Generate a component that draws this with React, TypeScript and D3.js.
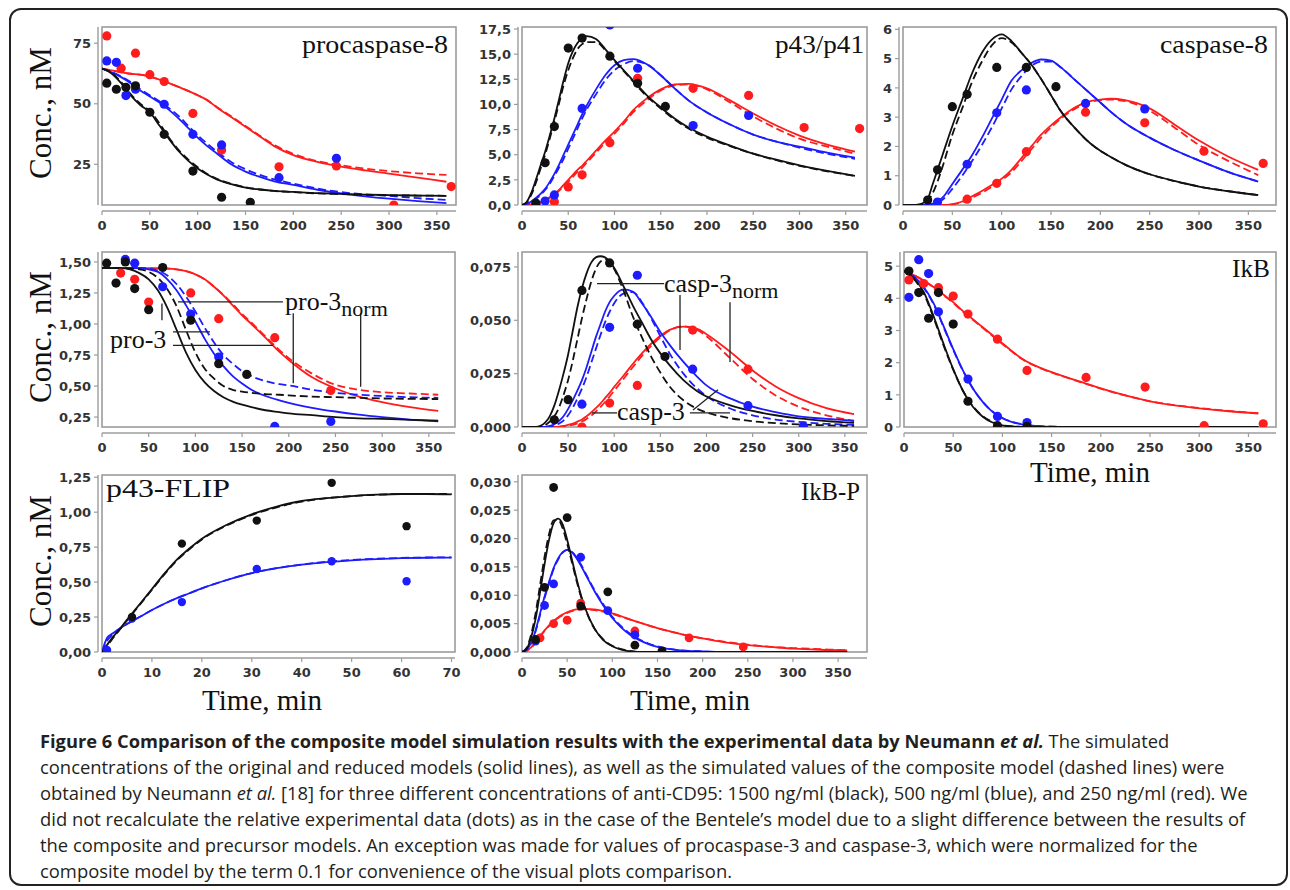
import React from 'react';
import * as d3 from 'd3';

// colours of the three anti-CD95 doses
const BLACK = '#111111';
const BLUE = '#1c1cff';
const RED = '#ff1c1c';
const FRAME = '#9c9c9c';

// ---------- tick labels ----------
const xTicksLong = [0, 50, 100, 150, 200, 250, 300, 350];
const xTicksFlip = [0, 10, 20, 30, 40, 50, 60, 70];
const yTicksProc8 = [25, 50, 75];
const yTicksP43 = [0, 2.5, 5, 7.5, 10, 12.5, 15, 17.5];
const yTicksCasp8 = [0, 1, 2, 3, 4, 5, 6];
const yTicksPro3 = [0.25, 0.5, 0.75, 1, 1.25, 1.5];
const yTicksCasp3 = [0, 0.025, 0.05, 0.075];
const yTicksIkB = [0, 1, 2, 3, 4, 5];
const yTicksFlip = [0, 0.25, 0.5, 0.75, 1, 1.25];
const yTicksIkBP = [0, 0.005, 0.01, 0.015, 0.02, 0.025, 0.03];

// ---------- procaspase-8 ----------
const proc8Time = [0, 10, 20, 30, 40, 50, 60, 70, 80, 90, 100, 110, 120, 135, 150, 165, 180, 200, 225, 250, 275, 300, 330, 360];
const proc8BlackSolid = [64.5, 62.5, 58.5, 53.5, 49.5, 46.5, 41, 35.5, 30.5, 26.5, 23.3, 20.8, 18.8, 16.8, 15.4, 14.6, 14.0, 13.6, 13.1, 12.8, 12.5, 12.3, 12.1, 12.0];
const proc8BlackDash = [64.5, 62.8, 59, 54, 50, 47, 42, 36, 31, 27, 23.8, 21, 19, 17, 15.5, 14.6, 14, 13.5, 13, 12.7, 12.4, 12.2, 12.1, 12];
const proc8BlueSolid = [64.5, 63, 61, 58.5, 55.5, 53, 50.5, 47.5, 44, 40, 36, 32.5, 29.5, 25, 22, 19.8, 18, 16.5, 14.5, 13, 11.8, 10.8, 9.8, 9.0];
const proc8BlueDash = [64.5, 63.2, 61.3, 59, 56, 53.5, 51, 48.2, 45, 41, 37, 33.5, 30.3, 26, 23, 20.6, 18.8, 17, 15, 13.5, 12.6, 12, 11, 10.3];
const proc8RedSolid = [64.5, 63.8, 63, 62.4, 62, 61.2, 60, 58.5, 57, 55.3, 53.5, 51.5, 48.5, 44.5, 40.5, 36.5, 32.5, 28.8, 26, 24, 22.5, 21.2, 19.5, 17.8];
const proc8RedDash = [64.5, 63.8, 63, 62.4, 62, 61.2, 60, 58.5, 57, 55.3, 53.5, 51.5, 48.7, 44.8, 40.8, 36.8, 33, 29.3, 26.3, 24.6, 23.2, 22.2, 21.3, 20.6];
const proc8BlackDots = [[5, 58.5], [15, 56], [25, 56.8], [35, 57.4], [50, 46.5], [65, 37.4], [95, 22.2], [125, 11.4], [155, 9.3]];
const proc8BlueDots = [[5, 67.7], [15, 67.1], [25, 53.4], [35, 56], [65, 49.8], [95, 37.4], [125, 33], [185, 19.5], [245, 27.5]];
const proc8RedDots = [[5, 78], [20, 64.7], [35, 70.9], [50, 62], [65, 59.2], [95, 46], [125, 30.9], [185, 24], [245, 24.3], [305, 8.2], [365, 15.8]];

// ---------- p43/p41 ----------
const p43Time = [0, 5, 10, 15, 20, 25, 30, 35, 40, 45, 50, 55, 60, 65, 70, 80, 90, 100, 110, 120, 135, 150, 165, 180, 200, 225, 250, 275, 300, 330, 360];
const p43BlackSolid = [0, 0.3, 1.2, 2.5, 3.9, 5.3, 6.9, 8.6, 10.5, 12.4, 14.1, 15.3, 16.1, 16.6, 16.8, 16.5, 15.5, 14.4, 13.4, 12.4, 10.9, 9.7, 8.6, 7.7, 6.8, 5.9, 5.1, 4.5, 3.95, 3.4, 2.9];
const p43BlackDash = [0, 0.25, 1.0, 2.2, 3.6, 5.0, 6.6, 8.3, 10.1, 11.9, 13.4, 14.6, 15.5, 16.0, 16.2, 16.2, 15.4, 14.3, 13.3, 12.3, 10.8, 9.6, 8.5, 7.6, 6.7, 5.85, 5.1, 4.45, 3.9, 3.35, 2.9];
const p43BlueSolid = [0, 0.1, 0.35, 0.7, 1.1, 1.6, 2.3, 3.1, 4.0, 5.0, 6.0, 7.0, 8.0, 9.0, 9.9, 11.5, 12.9, 13.9, 14.4, 14.5, 14.0, 12.9, 11.6, 10.4, 9.2, 8.0, 7.0, 6.3, 5.8, 5.2, 4.7];
const p43BlueDash = [0, 0.08, 0.3, 0.6, 1.0, 1.5, 2.1, 2.9, 3.7, 4.6, 5.6, 6.6, 7.6, 8.6, 9.5, 11.0, 12.4, 13.4, 14.0, 14.3, 14.0, 12.9, 11.6, 10.4, 9.2, 8.0, 7.0, 6.3, 5.7, 5.1, 4.6];
const p43RedSolid = [0, 0, 0.05, 0.15, 0.3, 0.5, 0.8, 1.1, 1.5, 2.0, 2.5, 3.0, 3.5, 3.9, 4.4, 5.4, 6.4, 7.3, 8.3, 9.4, 10.6, 11.5, 12.0, 12.05, 11.6, 10.4, 9.1, 7.9, 6.9, 6.0, 5.3];
const p43RedDash = [0, 0, 0.04, 0.12, 0.25, 0.45, 0.7, 1.0, 1.4, 1.85, 2.3, 2.8, 3.3, 3.7, 4.2, 5.2, 6.2, 7.1, 8.1, 9.2, 10.4, 11.4, 11.9, 12.0, 11.5, 10.2, 8.8, 7.6, 6.6, 5.8, 5.1];
const p43BlackDots = [[15, 0.2], [25, 4.2], [35, 7.8], [50, 15.6], [65, 16.6], [95, 14.8], [125, 12.1], [155, 9.8]];
const p43BlueDots = [[15, 0.1], [25, 0.4], [35, 1.0], [65, 9.6], [95, 17.9], [125, 13.6], [185, 7.9], [245, 8.9]];
const p43RedDots = [[35, 0.33], [50, 1.8], [65, 3.0], [95, 6.2], [125, 12.6], [185, 11.6], [245, 10.9], [305, 7.7], [365, 7.6]];

// ---------- caspase-8 ----------
const casp8Time = [0, 10, 15, 20, 25, 30, 35, 40, 50, 60, 70, 80, 90, 100, 110, 120, 130, 140, 150, 160, 175, 190, 200, 210, 225, 250, 275, 300, 330, 360];
const casp8BlackSolid = [0, 0, 0.01, 0.06, 0.2, 0.7, 1.2, 1.7, 2.7, 3.6, 4.5, 5.2, 5.65, 5.83, 5.6, 5.2, 4.8, 4.3, 3.75, 3.2, 2.6, 2.1, 1.85, 1.65, 1.38, 1.05, 0.82, 0.63, 0.47, 0.34];
const casp8BlackDash = [0, 0, 0, 0.03, 0.13, 0.4, 0.8, 1.3, 2.4, 3.3, 4.2, 4.9, 5.45, 5.7, 5.55, 5.2, 4.8, 4.3, 3.75, 3.2, 2.6, 2.1, 1.85, 1.65, 1.38, 1.05, 0.82, 0.63, 0.47, 0.34];
const casp8BlueSolid = [0, 0, 0, 0, 0.01, 0.05, 0.12, 0.25, 0.72, 1.2, 1.7, 2.3, 2.95, 3.6, 4.25, 4.6, 4.85, 4.97, 4.93, 4.7, 4.25, 3.8, 3.5, 3.2, 2.8, 2.3, 1.88, 1.52, 1.12, 0.8];
const casp8BlueDash = [0, 0, 0, 0, 0, 0.03, 0.08, 0.18, 0.55, 1.0, 1.5, 2.05, 2.65, 3.3, 3.95, 4.4, 4.75, 4.9, 4.9, 4.7, 4.25, 3.8, 3.5, 3.2, 2.8, 2.3, 1.88, 1.52, 1.12, 0.8];
const casp8RedSolid = [0, 0, 0, 0, 0, 0, 0, 0, 0.03, 0.12, 0.3, 0.48, 0.68, 0.9, 1.2, 1.6, 2.0, 2.4, 2.72, 3.0, 3.35, 3.55, 3.6, 3.63, 3.58, 3.3, 2.75, 2.2, 1.65, 1.2];
const casp8RedDash = [0, 0, 0, 0, 0, 0, 0, 0, 0.02, 0.1, 0.25, 0.42, 0.62, 0.85, 1.12, 1.5, 1.9, 2.3, 2.65, 2.95, 3.3, 3.52, 3.58, 3.6, 3.55, 3.22, 2.65, 2.05, 1.5, 1.02];
const casp8BlackDots = [[25, 0.17], [35, 1.2], [50, 3.36], [65, 3.78], [95, 4.7], [125, 4.7], [155, 4.04]];
const casp8BlueDots = [[35, 0.1], [65, 1.39], [95, 3.15], [125, 3.93], [185, 3.47], [245, 3.28]];
const casp8RedDots = [[65, 0.2], [95, 0.74], [125, 1.82], [185, 3.17], [245, 2.81], [305, 1.84], [365, 1.42]];

// ---------- procaspase-3 ----------
const pro3Time = [0, 20, 40, 50, 60, 70, 80, 90, 100, 110, 120, 130, 140, 150, 160, 175, 190, 200, 225, 250, 275, 300, 330, 360];
const pro3BlackSolid = [1.45, 1.45, 1.41, 1.36, 1.27, 1.13, 0.95, 0.77, 0.63, 0.53, 0.46, 0.41, 0.375, 0.35, 0.33, 0.305, 0.29, 0.28, 0.265, 0.25, 0.24, 0.235, 0.228, 0.222];
const pro3BlackDash = [1.45, 1.45, 1.44, 1.42, 1.37, 1.28, 1.14, 0.95, 0.77, 0.64, 0.56, 0.5, 0.47, 0.455, 0.445, 0.435, 0.43, 0.425, 0.415, 0.41, 0.405, 0.4, 0.397, 0.395];
const pro3BlueSolid = [1.45, 1.45, 1.45, 1.44, 1.42, 1.36, 1.27, 1.15, 1.02, 0.88, 0.76, 0.66, 0.58, 0.52, 0.47, 0.42, 0.385, 0.365, 0.325, 0.295, 0.27, 0.25, 0.23, 0.215];
const pro3BlueDash = [1.45, 1.45, 1.45, 1.445, 1.43, 1.39, 1.32, 1.22, 1.1, 0.97, 0.85, 0.75, 0.68, 0.62, 0.58, 0.54, 0.515, 0.505, 0.47, 0.445, 0.43, 0.42, 0.41, 0.405];
const pro3RedSolid = [1.45, 1.45, 1.45, 1.45, 1.448, 1.446, 1.44, 1.425, 1.4, 1.36, 1.3, 1.23, 1.15, 1.07, 1.0, 0.89, 0.775, 0.71, 0.57, 0.48, 0.415, 0.37, 0.33, 0.3];
const pro3RedDash = [1.45, 1.45, 1.45, 1.45, 1.448, 1.446, 1.44, 1.425, 1.4, 1.36, 1.3, 1.235, 1.16, 1.08, 1.01, 0.9, 0.79, 0.725, 0.6, 0.51, 0.47, 0.45, 0.44, 0.43];
const pro3BlackDots = [[5, 1.49], [15, 1.33], [25, 1.5], [35, 1.285], [50, 1.115], [65, 1.455], [95, 1.03], [125, 0.68], [155, 0.594]];
const pro3BlueDots = [[25, 1.52], [35, 1.49], [65, 1.3], [95, 1.08], [125, 0.734], [185, 0.175], [245, 0.215]];
const pro3RedDots = [[20, 1.41], [35, 1.36], [50, 1.177], [95, 1.25], [125, 1.043], [185, 0.89], [245, 0.465]];

// ---------- caspase-3 ----------
const casp3Time = [0, 10, 15, 20, 25, 30, 35, 40, 45, 50, 55, 60, 65, 70, 75, 80, 85, 90, 95, 100, 110, 120, 130, 140, 150, 160, 175, 190, 200, 225, 250, 275, 300, 330, 360];
const casp3BlackSolid = [0, 0, 0, 0.0005, 0.002, 0.005, 0.01, 0.017, 0.025, 0.034, 0.045, 0.056, 0.065, 0.072, 0.077, 0.0795, 0.08, 0.0795, 0.0775, 0.0745, 0.066, 0.057, 0.049, 0.041, 0.0345, 0.029, 0.022, 0.0168, 0.0143, 0.0103, 0.0075, 0.0055, 0.004, 0.0028, 0.002];
const casp3BlackDash = [0, 0, 0, 0, 0.0008, 0.0025, 0.005, 0.009, 0.015, 0.022, 0.031, 0.041, 0.051, 0.06, 0.068, 0.074, 0.0775, 0.0785, 0.0775, 0.074, 0.064, 0.052, 0.042, 0.033, 0.0255, 0.019, 0.0125, 0.0085, 0.0068, 0.0042, 0.0027, 0.0018, 0.0012, 0.0008, 0.0005];
const casp3BlueSolid = [0, 0, 0, 0, 0, 0.0005, 0.0013, 0.0028, 0.005, 0.0085, 0.0125, 0.017, 0.022, 0.028, 0.035, 0.042, 0.048, 0.054, 0.0585, 0.0615, 0.0645, 0.0635, 0.058, 0.0515, 0.0445, 0.0385, 0.0305, 0.0235, 0.0195, 0.0135, 0.0095, 0.007, 0.005, 0.0038, 0.003];
const casp3BlueDash = [0, 0, 0, 0, 0, 0.0002, 0.0007, 0.0016, 0.003, 0.0055, 0.009, 0.0133, 0.018, 0.0235, 0.03, 0.0365, 0.043, 0.049, 0.054, 0.058, 0.0625, 0.0632, 0.0585, 0.051, 0.0425, 0.0345, 0.025, 0.018, 0.0145, 0.0088, 0.0055, 0.0035, 0.0024, 0.0015, 0.001];
const casp3RedSolid = [0, 0, 0, 0, 0, 0, 0, 0.0002, 0.0005, 0.001, 0.0016, 0.0025, 0.0035, 0.005, 0.0068, 0.0088, 0.011, 0.0135, 0.016, 0.0188, 0.024, 0.0295, 0.0345, 0.039, 0.0428, 0.0455, 0.047, 0.046, 0.0435, 0.0355, 0.0265, 0.019, 0.0135, 0.0088, 0.006];
const casp3RedDash = [0, 0, 0, 0, 0, 0, 0, 0, 0.0003, 0.0006, 0.001, 0.0017, 0.0026, 0.0038, 0.0053, 0.0072, 0.0093, 0.0117, 0.0143, 0.017, 0.0225, 0.028, 0.0333, 0.038, 0.042, 0.0452, 0.0472, 0.0455, 0.0425, 0.0325, 0.0225, 0.0148, 0.0095, 0.0055, 0.0028];
const casp3BlackDots = [[35, 0.0034], [50, 0.0128], [65, 0.064], [95, 0.0769], [125, 0.0482], [155, 0.033]];
const casp3BlueDots = [[65, 0.0107], [95, 0.0467], [125, 0.0711], [185, 0.0271], [245, 0.01], [305, 0.0004]];
const casp3RedDots = [[65, 0.0], [95, 0.0112], [125, 0.0195], [185, 0.0454], [245, 0.0271]];

// ---------- IkB ----------
const ikbTime = [0, 10, 20, 30, 40, 50, 60, 70, 80, 90, 100, 110, 120, 140, 160, 180, 200, 225, 250, 275, 300, 330, 360];
const ikbBlackSolid = [4.85, 4.62, 4.2, 3.45, 2.6, 1.8, 1.12, 0.63, 0.32, 0.14, 0.05, 0.015, 0.005, 0, 0, 0, 0, 0, 0, 0, 0, 0, 0];
const ikbBlackDash = [4.85, 4.6, 4.15, 3.4, 2.55, 1.78, 1.12, 0.65, 0.34, 0.16, 0.06, 0.02, 0.006, 0, 0, 0, 0, 0, 0, 0, 0, 0, 0];
const ikbBlueSolid = [4.85, 4.68, 4.35, 3.85, 3.15, 2.42, 1.75, 1.2, 0.78, 0.47, 0.27, 0.15, 0.08, 0.02, 0.005, 0, 0, 0, 0, 0, 0, 0, 0];
const ikbBlueDash = [4.85, 4.67, 4.33, 3.82, 3.12, 2.4, 1.74, 1.2, 0.78, 0.48, 0.28, 0.16, 0.09, 0.025, 0.006, 0, 0, 0, 0, 0, 0, 0, 0];
const ikbRedSolid = [4.85, 4.72, 4.55, 4.35, 4.12, 3.88, 3.6, 3.35, 3.1, 2.85, 2.6, 2.35, 2.12, 1.82, 1.6, 1.4, 1.2, 0.98, 0.8, 0.67, 0.58, 0.49, 0.42];
const ikbRedDash = [4.85, 4.72, 4.55, 4.34, 4.1, 3.86, 3.58, 3.33, 3.08, 2.83, 2.58, 2.34, 2.11, 1.81, 1.59, 1.39, 1.19, 0.98, 0.8, 0.68, 0.59, 0.5, 0.43];
const ikbBlackDots = [[5, 4.85], [15, 4.18], [25, 3.38], [35, 4.18], [50, 3.2], [65, 0.8], [95, 0.04], [125, 0.02]];
const ikbBlueDots = [[5, 4.03], [15, 5.2], [25, 4.77], [35, 3.58], [65, 1.49], [95, 0.33], [125, 0.14]];
const ikbRedDots = [[5, 4.57], [20, 4.46], [35, 4.33], [50, 4.07], [65, 3.51], [95, 2.73], [125, 1.76], [185, 1.54], [245, 1.24], [305, 0.04], [365, 0.1]];

// ---------- p43-FLIP ----------
const flipTime = [0, 1, 2, 3, 5, 7.5, 10, 12.5, 15, 17.5, 20, 25, 30, 35, 40, 45, 50, 55, 60, 65, 70];
const flipBlackSolid = [0, 0.05, 0.1, 0.14, 0.23, 0.34, 0.45, 0.56, 0.66, 0.74, 0.81, 0.91, 0.985, 1.04, 1.08, 1.1, 1.115, 1.125, 1.13, 1.13, 1.128];
const flipBlackDash = [0, 0.04, 0.09, 0.135, 0.225, 0.335, 0.445, 0.555, 0.655, 0.735, 0.805, 0.905, 0.98, 1.035, 1.075, 1.1, 1.115, 1.125, 1.13, 1.13, 1.13];
const flipBlueSolid = [0, 0.1, 0.13, 0.155, 0.2, 0.25, 0.3, 0.345, 0.385, 0.42, 0.455, 0.515, 0.565, 0.6, 0.625, 0.643, 0.656, 0.665, 0.671, 0.674, 0.675];
const flipBlueDash = [0, 0.08, 0.12, 0.15, 0.2, 0.25, 0.3, 0.345, 0.385, 0.42, 0.455, 0.515, 0.565, 0.6, 0.626, 0.645, 0.658, 0.667, 0.673, 0.676, 0.677];
const flipBlackDots = [[6, 0.25], [16, 0.775], [31, 0.94], [46, 1.21], [61, 0.9]];
const flipBlueDots = [[1, 0.015], [6, 0.24], [16, 0.357], [31, 0.594], [46, 0.649], [61, 0.506]];

// ---------- IkB-P ----------
const ikbpTime = [0, 5, 10, 15, 20, 25, 30, 35, 40, 45, 50, 55, 60, 65, 70, 80, 90, 100, 110, 120, 130, 140, 150, 175, 200, 225, 250, 275, 300, 330, 360];
const ikbpBlackSolid = [0, 0.0005, 0.0025, 0.0058, 0.0105, 0.0155, 0.0198, 0.0227, 0.0235, 0.0225, 0.0198, 0.0165, 0.0132, 0.0102, 0.0077, 0.0042, 0.0021, 0.001, 0.0004, 0.0001, 0, 0, 0, 0, 0, 0, 0, 0, 0, 0, 0];
const ikbpBlackDash = [0, 0.0007, 0.003, 0.0068, 0.0118, 0.0168, 0.0208, 0.0232, 0.0233, 0.0218, 0.0191, 0.016, 0.0128, 0.0099, 0.0076, 0.0042, 0.0022, 0.0011, 0.0005, 0.0002, 0, 0, 0, 0, 0, 0, 0, 0, 0, 0, 0];
const ikbpBlueSolid = [0, 0.0004, 0.0016, 0.0038, 0.0068, 0.0098, 0.0124, 0.0148, 0.0165, 0.0176, 0.018, 0.0176, 0.0166, 0.0153, 0.0138, 0.0108, 0.0082, 0.006, 0.0043, 0.003, 0.0021, 0.0014, 0.0009, 0.0003, 0.0001, 0, 0, 0, 0, 0, 0];
const ikbpBlueDash = [0, 0.0004, 0.0015, 0.0036, 0.0065, 0.0095, 0.0122, 0.0146, 0.0163, 0.0175, 0.018, 0.0177, 0.0168, 0.0155, 0.014, 0.011, 0.0084, 0.0062, 0.0045, 0.0032, 0.0022, 0.0015, 0.001, 0.0003, 0.0001, 0, 0, 0, 0, 0, 0];
const ikbpRedSolid = [0, 0.0002, 0.0008, 0.0017, 0.0028, 0.0038, 0.0047, 0.0055, 0.0061, 0.0066, 0.007, 0.0073, 0.0075, 0.0076, 0.0076, 0.0075, 0.0072, 0.0068, 0.0063, 0.0057, 0.0052, 0.0047, 0.0042, 0.0032, 0.0024, 0.0017, 0.0012, 0.0009, 0.0006, 0.0004, 0.0003];
const ikbpRedDash = [0, 0.0002, 0.0007, 0.0016, 0.0027, 0.0037, 0.0046, 0.0054, 0.006, 0.0065, 0.0069, 0.0072, 0.0074, 0.0075, 0.0075, 0.0074, 0.0071, 0.0067, 0.0062, 0.0057, 0.0052, 0.0047, 0.0042, 0.0032, 0.0024, 0.0018, 0.0013, 0.0009, 0.0007, 0.0005, 0.0003];
const ikbpBlackDots = [[15, 0.0022], [25, 0.0114], [35, 0.029], [50, 0.0237], [65, 0.0081], [95, 0.0106], [125, 0.0012], [155, 0.0002]];
const ikbpBlueDots = [[15, 0.0019], [25, 0.0082], [35, 0.012], [65, 0.0167], [95, 0.0073], [125, 0.003]];
const ikbpRedDots = [[20, 0.0025], [35, 0.005], [50, 0.0056], [65, 0.0086], [125, 0.0037], [185, 0.0025], [245, 0.0009]];

// ---------- annotation leaders (data units) ----------
const pro3NormLeaders = [[[81.4, 1.178], [193.8, 1.178]], [[64.2, 1.165], [64.2, 1.03]], [[204.8, 1.086], [204.8, 0.522]], [[277, 1.086], [277, 0.495]]];
const pro3Leaders = [[[76, 0.936], [115.6, 0.936]], [[76, 0.828], [183, 0.828]]];
const casp3NormLeaders = [[[81.3, 0.0672], [154, 0.0672]], [[171.3, 0.0618], [171.3, 0.0361]], [[225.5, 0.0585], [225.5, 0.0305]]];
const casp3Leaders = [[[75.9, 0.0066], [103, 0.0066]], [[182, 0.0066], [225.5, 0.0066]], [[185.4, 0.008], [212.5, 0.0174]]];

// ---------- caption ----------
const captionLines = [
  [{ t: 'Figure 6 Comparison of the composite model simulation results with the experimental data by Neumann ', b: true }, { t: 'et al.', b: true, i: true }, { t: ' The simulated' }],
  [{ t: 'concentrations of the original and reduced models (solid lines), as well as the simulated values of the composite model (dashed lines) were' }],
  [{ t: 'obtained by Neumann ' }, { t: 'et al.', i: true }, { t: ' [18] for three different concentrations of anti-CD95: 1500 ng/ml (black), 500 ng/ml (blue), and 250 ng/ml (red). We' }],
  [{ t: 'did not recalculate the relative experimental data (dots) as in the case of the Bentele\u2019s model due to a slight difference between the results of' }],
  [{ t: 'the composite and precursor models. An exception was made for values of procaspase-3 and caspase-3, which were normalized for the' }],
  [{ t: 'composite model by the term 0.1 for convenience of the visual plots comparison.' }],
];

const mk = (t, v, c, dash = false) => ({ t, v, c, dash });
const trio = (t, bs, bd, us, ud, rs, rd) => [
  mk(t, rs, RED), mk(t, rd, RED, true),
  mk(t, us, BLUE), mk(t, ud, BLUE, true),
  mk(t, bs, BLACK), mk(t, bd, BLACK, true),
];

const panels = [
  {
    id: 'proc8', frame: [102, 27, 456, 205], xMax: 370, yDomain: [8.2, 81.7], xTicks: xTicksLong, yTicks: yTicksProc8, digits: 0,
    title: 'procaspase-8', titleLen: 146, anchor: 'end', tx: 448, ty: 53, r: 4.6,
    curves: trio(proc8Time, proc8BlackSolid, proc8BlackDash, proc8BlueSolid, proc8BlueDash, proc8RedSolid, proc8RedDash),
    dots: [[proc8RedDots, RED], [proc8BlueDots, BLUE], [proc8BlackDots, BLACK]],
  },
  {
    id: 'p43', frame: [522, 27, 867, 205], xMax: 373, yDomain: [0, 17.7], xTicks: xTicksLong, yTicks: yTicksP43, digits: 1,
    title: 'p43/p41', titleLen: 89, anchor: 'end', tx: 864, ty: 53, r: 4.6,
    curves: trio(p43Time, p43BlackSolid, p43BlackDash, p43BlueSolid, p43BlueDash, p43RedSolid, p43RedDash),
    dots: [[p43RedDots, RED], [p43BlueDots, BLUE], [p43BlackDots, BLACK]],
  },
  {
    id: 'casp8', frame: [903, 27, 1276, 205], xMax: 378, yDomain: [0, 6.08], xTicks: xTicksLong, yTicks: yTicksCasp8, digits: 0,
    title: 'caspase-8', titleLen: 108, anchor: 'end', tx: 1268, ty: 53, r: 4.6,
    curves: trio(casp8Time, casp8BlackSolid, casp8BlackDash, casp8BlueSolid, casp8BlueDash, casp8RedSolid, casp8RedDash),
    dots: [[casp8RedDots, RED], [casp8BlueDots, BLUE], [casp8BlackDots, BLACK]],
  },
  {
    id: 'pro3', frame: [102, 252, 455, 427], xMax: 378, yDomain: [0.17, 1.58], xTicks: xTicksLong, yTicks: yTicksPro3, digits: 2,
    title: '', r: 4.6,
    curves: trio(pro3Time, pro3BlackSolid, pro3BlackDash, pro3BlueSolid, pro3BlueDash, pro3RedSolid, pro3RedDash),
    dots: [[pro3RedDots, RED], [pro3BlueDots, BLUE], [pro3BlackDots, BLACK]],
    notes: { leaders: [...pro3NormLeaders, ...pro3Leaders], labels: [{ at: [196, 1.11], main: 'pro-3', sub: 'norm' }, { at: [8.6, 0.804], main: 'pro-3' }] },
  },
  {
    id: 'casp3', frame: [522, 252, 867, 427], xMax: 374, yDomain: [0, 0.082], xTicks: xTicksLong, yTicks: yTicksCasp3, digits: 3,
    title: '', r: 4.6,
    curves: trio(casp3Time, casp3BlackSolid, casp3BlackDash, casp3BlueSolid, casp3BlueDash, casp3RedSolid, casp3RedDash),
    dots: [[casp3RedDots, RED], [casp3BlueDots, BLUE], [casp3BlackDots, BLACK]],
    notes: { leaders: [...casp3NormLeaders, ...casp3Leaders], labels: [{ at: [154, 0.0633], main: 'casp-3', sub: 'norm' }, { at: [103, 0.0033], main: 'casp-3' }] },
  },
  {
    id: 'ikb', frame: [904, 252, 1276, 427], xMax: 378, yDomain: [0, 5.44], xTicks: xTicksLong, yTicks: yTicksIkB, digits: 0,
    title: 'IkB', titleLen: 38, anchor: 'end', tx: 1270, ty: 277, r: 4.6, xLabel: [1090, 482],
    curves: trio(ikbTime, ikbBlackSolid, ikbBlackDash, ikbBlueSolid, ikbBlueDash, ikbRedSolid, ikbRedDash),
    dots: [[ikbRedDots, RED], [ikbBlueDots, BLUE], [ikbBlackDots, BLACK]],
  },
  {
    id: 'flip', frame: [102, 475, 455, 652], xMax: 70.7, yDomain: [0, 1.266], xTicks: xTicksFlip, yTicks: yTicksFlip, digits: 2,
    title: 'p43-FLIP', titleLen: 124, anchor: 'start', tx: 106, ty: 497, r: 4.2, xLabel: [262, 710],
    curves: [mk(flipTime, flipBlueSolid, BLUE), mk(flipTime, flipBlueDash, BLUE, true), mk(flipTime, flipBlackSolid, BLACK), mk(flipTime, flipBlackDash, BLACK, true)],
    dots: [[flipBlueDots, BLUE], [flipBlackDots, BLACK]],
  },
  {
    id: 'ikbp', frame: [522, 475, 867, 652], xMax: 382, yDomain: [0, 0.0312], xTicks: xTicksLong, yTicks: yTicksIkBP, digits: 3,
    title: 'IkB-P', titleLen: 59, anchor: 'end', tx: 860, ty: 500, r: 4.4, xLabel: [690, 710],
    curves: trio(ikbpTime, ikbpBlackSolid, ikbpBlackDash, ikbpBlueSolid, ikbpBlueDash, ikbpRedSolid, ikbpRedDash),
    dots: [[ikbpRedDots, RED], [ikbpBlueDots, BLUE], [ikbpBlackDots, BLACK]],
  },
];

const tickFont = { fontFamily: 'DejaVu Sans, Arial, sans-serif', fontWeight: 700, fontSize: 13, fill: '#333' };
const serif = 'Liberation Serif, Times New Roman, serif';

function Panel({ p }) {
  const [x0, y0, x1, y1] = p.frame;
  const x = d3.scaleLinear().domain([0, p.xMax]).range([x0, x1]);
  const y = d3.scaleLinear().domain(p.yDomain).range([y1, y0]);
  const line = d3.line().x((d) => x(d[0])).y((d) => y(d[1])).curve(d3.curveMonotoneX);
  const fmt = (v) => d3.format(`.${p.digits}f`)(v).replace('.', ',');
  const ax = x0 - 4;
  const ay = y1 + 6;
  return (
    <g>
      <defs>
        <clipPath id={`clip-${p.id}`}>
          <rect x={x0} y={y0} width={x1 - x0} height={y1 - y0} />
        </clipPath>
      </defs>
      <rect x={x0} y={y0} width={x1 - x0} height={y1 - y0} fill="#fff" stroke={FRAME} strokeWidth={1.6} />
      {/* y axis */}
      <line x1={ax} x2={ax} y1={y0} y2={y1} stroke={FRAME} strokeWidth={1.4} />
      {p.yTicks.map((v) => (
        <g key={`y${v}`}>
          <line x1={ax - 4} x2={ax} y1={y(v)} y2={y(v)} stroke={FRAME} strokeWidth={1.2} />
          <text x={x0 - 11} y={y(v) + 4.7} textAnchor="end" {...tickFont}>{fmt(v)}</text>
        </g>
      ))}
      {/* x axis */}
      <line x1={x0} x2={x1} y1={ay} y2={ay} stroke={FRAME} strokeWidth={1.4} />
      {p.xTicks.map((v) => (
        <g key={`x${v}`}>
          <line x1={x(v)} x2={x(v)} y1={ay} y2={ay + 4} stroke={FRAME} strokeWidth={1.2} />
          <text x={x(v)} y={y1 + 25} textAnchor="middle" {...tickFont}>{v}</text>
        </g>
      ))}
      <g clipPath={`url(#clip-${p.id})`}>
        {p.curves.map((c, i) => (
          <path key={i} d={line(c.t.map((tt, k) => [tt, c.v[k]]))} fill="none" stroke={c.c}
            strokeWidth={1.8} strokeDasharray={c.dash ? '8 4' : undefined} />
        ))}
        {p.dots.map(([pts, col], i) => (
          <g key={`d${i}`} fill={col}>
            {pts.map((d, k) => <circle key={k} cx={x(d[0])} cy={y(d[1])} r={p.r} />)}
          </g>
        ))}
      </g>
      {p.notes && (
        <g>
          {p.notes.leaders.map((s, i) => (
            <line key={`l${i}`} x1={x(s[0][0])} y1={y(s[0][1])} x2={x(s[1][0])} y2={y(s[1][1])} stroke="#222" strokeWidth={1.3} />
          ))}
          {p.notes.labels.map((l, i) => (
            <text key={`t${i}`} x={x(l.at[0])} y={y(l.at[1])} fontFamily={serif} fontSize={26} fill="#111">
              {l.main}
              {l.sub && <tspan fontSize={22} dy={6}>{l.sub}</tspan>}
            </text>
          ))}
        </g>
      )}
      {p.title && (
        <text x={p.tx} y={p.ty} textAnchor={p.anchor} fontFamily={serif} fontSize={26} fill="#111"
          textLength={p.titleLen} lengthAdjust="spacingAndGlyphs">{p.title}</text>
      )}
      {p.xLabel && (
        <text x={p.xLabel[0]} y={p.xLabel[1]} textAnchor="middle" fontFamily={serif} fontSize={29} fill="#111">Time, min</text>
      )}
    </g>
  );
}

export default function App() {
  const yLabelCenters = [113, 337, 561];
  const capBase = [748, 774, 800, 826, 852, 878];
  return (
    <>
      <style>{'body{margin:0}'}</style>
      <svg width={1290} height={890} style={{ display: 'block', background: '#fff' }}>
        <rect x={10} y={9} width={1277} height={876} rx={11} fill="none" stroke="#222" strokeWidth={2} />
        {panels.map((p) => <Panel key={p.id} p={p} />)}
        {yLabelCenters.map((cy) => (
          <text key={cy} x={51} y={cy} transform={`rotate(-90, 51, ${cy})`} textAnchor="middle"
            fontFamily={serif} fontSize={31} fill="#111">Conc., nM</text>
        ))}
        {captionLines.map((segs, i) => (
          <text key={i} x={40} y={capBase[i]} fontFamily="Open Sans, Noto Sans, sans-serif"
            fontSize={i === 0 ? 18.3 : 18.4} fill="#231f20">
            {segs.map((s, k) => (
              <tspan key={k} fontWeight={s.b ? 700 : 400} fontStyle={s.i ? 'italic' : 'normal'}>{s.t}</tspan>
            ))}
          </text>
        ))}
      </svg>
    </>
  );
}
